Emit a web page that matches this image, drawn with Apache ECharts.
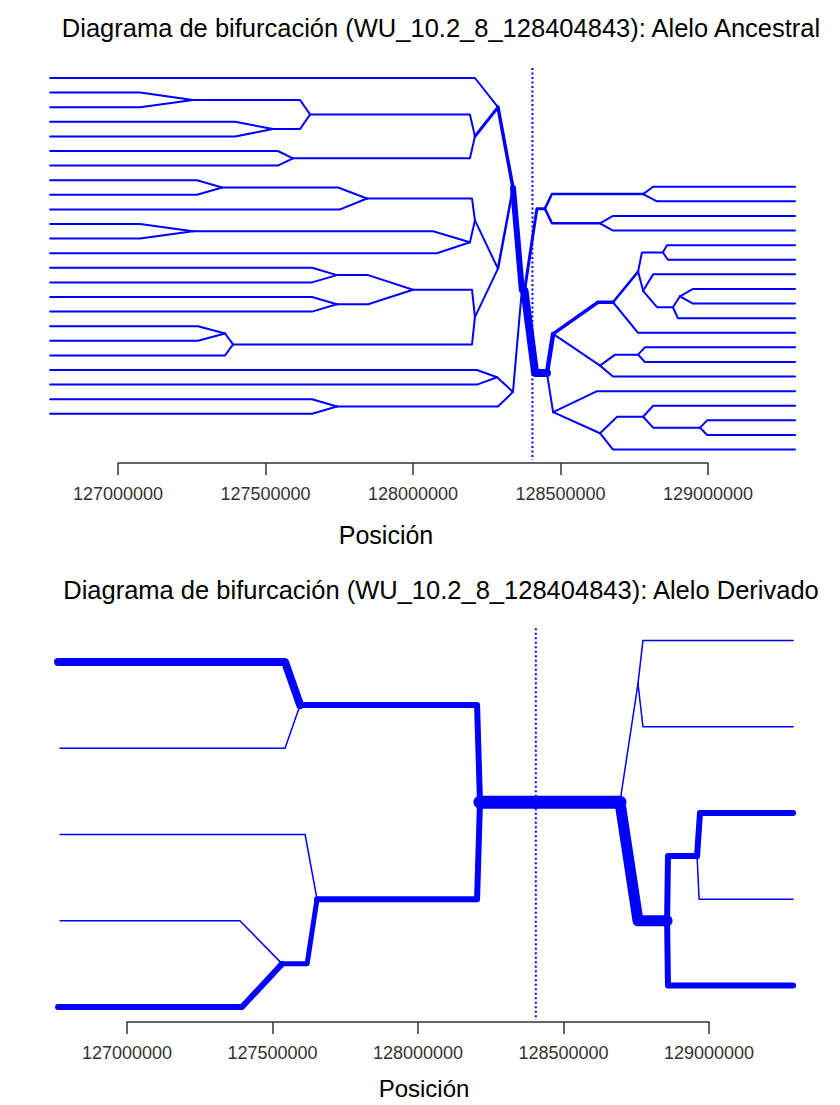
<!DOCTYPE html>
<html>
<head>
<meta charset="utf-8">
<script src="https://cdn.jsdelivr.net/npm/echarts@6/dist/echarts.min.js"></script>
<style>html,body{margin:0;padding:0;background:#fff}#c{width:840px;height:1105px}</style>
</head>
<body>
<div id="c"></div>
<script>
// Positions in kb (axis labels show bp). y = haplotype rank (vertical order of branches).
const focalKb = 128404.843;
const tickValues = [127000, 127500, 128000, 128500, 129000];
const titleTop = 'Diagrama de bifurcación (WU_10.2_8_128404843): Alelo Ancestral';
const titleBottom = 'Diagrama de bifurcación (WU_10.2_8_128404843): Alelo Derivado';
const axisName = 'Posición';

// Each row: [node, parent, xDiagonalEnd, xNode, y, width]
const ancestralLeft = [
  ['rootL', null, 128369, 128369, 14.52, 0],
  ['E', 'rootL', 128339, 128339, 7.53, 6],
  ['N', 'rootL', 128339, 128339, 21.5, 2],
  ['A', 'E', 128288, 128288, 2.0, 3.5],
  ['I', 'E', 128288, 128288, 13.06, 2.5],
  ['L0', 'A', 128210, 126770, 0, 2],
  ['C', 'A', 128210, 128210, 4.0, 3],
  ['B', 'C', 128193, 127651, 2.5, 2],
  ['D', 'C', 128193, 127593, 5.5, 2],
  ['B1', 'B', 127617, 127254, 1.5, 2],
  ['B2', 'B', 127617, 127525, 3.5, 2],
  ['L1', 'B1', 127075, 126770, 1, 2],
  ['L2', 'B1', 127075, 126770, 2, 2],
  ['L3', 'B2', 127397, 126770, 3, 2],
  ['L4', 'B2', 127397, 126770, 4, 2],
  ['L5', 'D', 127542, 126770, 5, 2],
  ['L6', 'D', 127542, 126770, 6, 2],
  ['G', 'I', 128210, 128210, 9.75, 2],
  ['K', 'I', 128210, 128210, 16.375, 2],
  ['F', 'G', 128200, 127844, 8.25, 2],
  ['H', 'G', 128193, 128193, 11.25, 2],
  ['F1', 'F', 127746, 127353, 7.5, 2],
  ['L9', 'F', 127753, 126770, 9, 2],
  ['L7', 'F1', 127268, 126770, 7, 2],
  ['L8', 'F1', 127268, 126770, 8, 2],
  ['H1', 'H', 128068, 127254, 10.5, 2],
  ['L12', 'H', 128081, 126770, 12, 2],
  ['L10', 'H1', 127075, 126770, 10, 2],
  ['L11', 'H1', 127075, 126770, 11, 2],
  ['J', 'K', 128200, 128000, 14.5, 2],
  ['M', 'K', 128200, 127390, 18.25, 2],
  ['J1', 'J', 127848, 127742, 13.5, 2],
  ['J2', 'J', 127848, 127742, 15.5, 2],
  ['L13', 'J1', 127658, 126770, 13, 2],
  ['L14', 'J1', 127658, 126770, 14, 2],
  ['L15', 'J2', 127658, 126770, 15, 2],
  ['L16', 'J2', 127658, 126770, 16, 2],
  ['M1', 'M', 127363, 127363, 17.5, 2],
  ['L19', 'M', 127363, 126770, 19, 2],
  ['L17', 'M1', 127271, 126770, 17, 2],
  ['L18', 'M1', 127271, 126770, 18, 2],
  ['N1', 'N', 128285, 128285, 20.5, 2],
  ['P1', 'N', 128288, 127742, 22.5, 2],
  ['L20', 'N1', 128217, 126770, 20, 2],
  ['L21', 'N1', 128217, 126770, 21, 2],
  ['L22', 'P1', 127658, 126770, 22, 2],
  ['L23', 'P1', 127658, 126770, 23, 2]
];

const ancestralRight = [
  ['rootR', null, 128378, 128378, 14.58, 0],
  ['Q', 'rootR', 128420, 128447, 8.95, 3],
  ['S', 'rootR', 128414, 128454, 20.21, 8],
  ['Q1', 'Q', 128471, 128780, 7.95, 2.5],
  ['Q2', 'Q', 128471, 128634, 9.95, 2.5],
  ['R0', 'Q1', 128814, 129295, 7.45, 2],
  ['R1', 'Q1', 128827, 129295, 8.45, 2],
  ['R2', 'Q2', 128678, 129295, 9.45, 2],
  ['R3', 'Q2', 128678, 129295, 10.45, 2],
  ['T', 'S', 128475, 128475, 17.53, 4.5],
  ['U', 'S', 128475, 128475, 22.89, 2],
  ['V', 'T', 128627, 128678, 15.36, 3.5],
  ['W', 'T', 128634, 128634, 19.7, 2],
  ['X', 'V', 128763, 128763, 13.26, 2.5],
  ['R10', 'V', 128763, 129295, 17.45, 2],
  ['Y', 'X', 128776, 128847, 11.95, 2],
  ['X2', 'X', 128780, 128780, 14.575, 2],
  ['R4', 'Y', 128861, 129295, 11.45, 2],
  ['R5', 'Y', 128864, 129295, 12.45, 2],
  ['R6', 'X2', 128814, 129295, 13.45, 2],
  ['Z', 'X2', 128827, 128881, 15.7, 2],
  ['Z2', 'Z', 128905, 128905, 14.95, 2],
  ['R9', 'Z', 128898, 129295, 16.45, 2],
  ['R7', 'Z2', 128949, 129295, 14.45, 2],
  ['R8', 'Z2', 128949, 129295, 15.45, 2],
  ['W2', 'W', 128685, 128763, 18.95, 2],
  ['R13', 'W', 128678, 129295, 20.45, 2],
  ['R11', 'W2', 128786, 129295, 18.45, 2],
  ['R12', 'W2', 128786, 129295, 19.45, 2],
  ['R14', 'U', 128624, 129295, 21.45, 2],
  ['AA', 'U', 128634, 128634, 24.33, 2],
  ['AB', 'AA', 128692, 128780, 23.2, 2],
  ['R18', 'AA', 128678, 129295, 25.45, 2],
  ['R15', 'AB', 128814, 129295, 22.45, 2],
  ['AC', 'AB', 128814, 128973, 23.95, 2],
  ['R16', 'AC', 128997, 129295, 23.45, 2],
  ['R17', 'AC', 128997, 129295, 24.45, 2]
];

const derived = [
  ['core', null, 128404.843, 128404.843, 1.625, 0],
  ['coreL', 'core', 128213, 128213, 1.625, 13],
  ['coreR', 'core', 128694, 128694, 1.625, 13],
  ['a', 'coreL', 128203, 127595, 0.5, 6],
  ['b', 'coreL', 128203, 127653, 2.75, 6],
  ['h0', 'a', 127543, 126763, 0, 8],
  ['h1', 'a', 127543, 126770, 1, 1.5],
  ['h2', 'b', 127612, 126770, 2, 1.5],
  ['c', 'b', 127619, 127533, 3.5, 5],
  ['h3', 'c', 127388, 126770, 3, 1.5],
  ['h4', 'c', 127395, 126763, 4, 6],
  ['d', 'coreR', 128756, 128756, 0.25, 1.5],
  ['e', 'coreR', 128756, 128856, 3.0, 11],
  ['k0', 'd', 128773, 129289, -0.25, 1.5],
  ['k1', 'd', 128773, 129289, 0.75, 1.5],
  ['f', 'e', 128859, 128959, 2.25, 6],
  ['k4', 'e', 128859, 129289, 3.75, 6],
  ['k2', 'f', 128969, 129289, 1.75, 6],
  ['k3', 'f', 128966, 129289, 2.75, 1.5]
];

const BLUE = '#0000ff';
const series = [];
// grid 0/1: plotting grids (hidden axes); grid 2/3: visible position axes
function addTree(rows, gi) {
  const byId = {};
  rows.forEach(r => { byId[r[0]] = r; });
  rows.filter(r => r[1]).sort((p, q) => p[5] - q[5]).forEach(r => {
    const p = byId[r[1]];
    series.push({
      type: 'line', xAxisIndex: gi, yAxisIndex: gi, silent: true,
      showSymbol: false, symbol: 'none', animation: false,
      lineStyle: { color: BLUE, width: r[5], cap: 'round', join: 'round' },
      data: [[p[3], p[4]], [r[2], r[4]], [r[3], r[4]]]
    });
  });
}
addTree(ancestralLeft, 0);
addTree(ancestralRight, 0);
addTree(derived, 1);

const focalRange = [[-0.68, 26.16], [-0.39, 4.15]];
focalRange.forEach((rg, gi) => {
  series.push({
    type: 'line', xAxisIndex: gi, yAxisIndex: gi, silent: true,
    showSymbol: false, symbol: 'none', animation: false,
    lineStyle: { color: BLUE, width: 2, type: [2, 2.5] },
    data: [[focalKb, rg[0]], [focalKb, rg[1]]]
  });
});

const FONT = '"Liberation Sans", Arial, sans-serif';
// plot grids span wider than the axis (tick 127000 at px 118/127, 500 kb per 147.5/145.5 px)
const plotGrids = [
  { left: 40, width: 770, top: 63.4, height: 399.6, kbPerPx: 500 / 147.5, tick0: 118 },
  { left: 40, width: 770, top: 610.25, height: 411.75, kbPerPx: 500 / 145.5, tick0: 127 }
];
function hiddenX(gi) {
  const g = plotGrids[gi];
  return {
    type: 'value', gridIndex: gi, show: false,
    min: 127000 - (g.tick0 - g.left) * g.kbPerPx,
    max: 127000 + (g.left + g.width - g.tick0) * g.kbPerPx
  };
}
function axisX(gi) {
  return {
    type: 'value', gridIndex: gi, min: tickValues[0], max: tickValues[tickValues.length - 1], interval: 500,
    splitLine: { show: false },
    axisLine: { show: true, onZero: false, lineStyle: { color: '#333', width: 1.5 } },
    axisTick: { show: true, length: 12, lineStyle: { color: '#333', width: 1.5 } },
    axisLabel: { fontSize: 18, color: '#333', margin: 22, fontFamily: FONT,
      formatter: v => String(Math.round(v * 1000)) }
  };
}

const chart = echarts.init(document.getElementById('c'), null, { renderer: 'svg' });
chart.setOption({
  backgroundColor: '#fff',
  animation: false,
  grid: [
    { left: plotGrids[0].left, width: plotGrids[0].width, top: plotGrids[0].top, height: plotGrids[0].height },
    { left: plotGrids[1].left, width: plotGrids[1].width, top: plotGrids[1].top, height: plotGrids[1].height },
    { left: 118, width: 590, top: 63.4, height: 399.6 },
    { left: 127, width: 582, top: 610.25, height: 411.75 }
  ],
  xAxis: [hiddenX(0), hiddenX(1), axisX(2), axisX(3)],
  yAxis: [
    { type: 'value', gridIndex: 0, inverse: true, min: -1, max: 26.37, show: false },
    { type: 'value', gridIndex: 1, inverse: true, min: -0.6, max: 4.174, show: false },
    { type: 'value', gridIndex: 2, min: 0, max: 1, show: false },
    { type: 'value', gridIndex: 3, min: 0, max: 1, show: false }
  ],
  graphic: [
    { type: 'text', x: 441, y: 28, silent: true, style: { text: titleTop, font: '25.5px ' + FONT, fill: '#000', textAlign: 'center', textVerticalAlign: 'middle' } },
    { type: 'text', x: 386, y: 535, silent: true, style: { text: axisName, font: '25px ' + FONT, fill: '#000', textAlign: 'center', textVerticalAlign: 'middle' } },
    { type: 'text', x: 441, y: 590, silent: true, style: { text: titleBottom, font: '25.5px ' + FONT, fill: '#000', textAlign: 'center', textVerticalAlign: 'middle' } },
    { type: 'text', x: 424, y: 1088, silent: true, style: { text: axisName, font: '24px ' + FONT, fill: '#000', textAlign: 'center', textVerticalAlign: 'middle' } }
  ],
  series: series
});
</script>
</body>
</html>
